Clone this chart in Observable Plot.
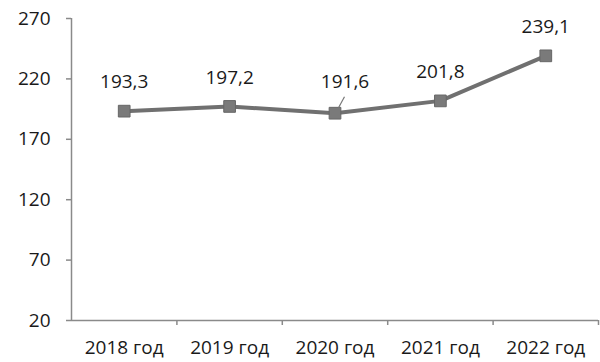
<!DOCTYPE html>
<html>
<head>
<meta charset="utf-8">
<script src="https://cdn.jsdelivr.net/npm/d3@7"></script>
<script src="https://cdn.jsdelivr.net/npm/@observablehq/plot@0.6"></script>
<style>
  html, body { margin: 0; padding: 0; background: #fff; }
  svg { display: block; }
</style>
</head>
<body>
<div id="chart"></div>
<script>
const years = ["2018 год", "2019 год", "2020 год", "2021 год", "2022 год"];
const values = [193.3, 197.2, 191.6, 201.8, 239.1];
const labels = ["193,3", "197,2", "191,6", "201,8", "239,1"];
const yTicks = [20, 70, 120, 170, 220, 270];

const data = years.map((year, i) => ({ i, pos: i + 0.5, year, value: values[i], label: labels[i] }));
const font = "'Open Sans', sans-serif";
const axisColor = "#8a8a8a";
const textColor = "#1a1a1a";

const leader = (index, scales) => {
  const d = data[2];
  const x = scales.x(d.pos), y = scales.y(d.value);
  const line = document.createElementNS("http://www.w3.org/2000/svg", "line");
  line.setAttribute("x1", x + 4); line.setAttribute("y1", y - 5);
  line.setAttribute("x2", x + 10); line.setAttribute("y2", y - 16);
  line.setAttribute("stroke", "#777"); line.setAttribute("stroke-width", 1.2);
  return line;
};

const chart = Plot.plot({
  width: 600,
  height: 362,
  marginLeft: 71,
  marginRight: 2,
  marginTop: 18,
  marginBottom: 42,
  style: { fontFamily: font, fontSize: "19px", color: textColor, background: "#fff" },
  x: { type: "linear", domain: [0, years.length] },
  y: { domain: [20, 270] },
  marks: [
    Plot.axisY({ ticks: yTicks, tickSize: 5, tickPadding: 16, stroke: axisColor, strokeWidth: 1.5, fill: textColor, fontSize: 19, label: null }),
    Plot.axisX({ ticks: d3.range(1, years.length + 1), tickSize: 5, tickFormat: () => "", stroke: axisColor, strokeWidth: 1.5, label: null }),
    Plot.axisX(data.map(d => d.pos), { tickSize: 0, tickPadding: 20, tickFormat: (d) => years[Math.floor(d)], fill: textColor, fontSize: 19, label: null }),
    Plot.ruleX([0], { stroke: axisColor, strokeWidth: 1.5 }),
    Plot.ruleY([20], { stroke: axisColor, strokeWidth: 1.5 }),
    Plot.line(data, { x: "pos", y: "value", stroke: "#707070", strokeWidth: 4 }),
    Plot.dot(data, { x: "pos", y: "value", symbol: "square", r: 6.6, fill: "#7a7a7a", stroke: "#666", strokeWidth: 1 }),
    Plot.text(data.filter(d => d.i !== 2), { x: "pos", y: "value", text: "label", dy: -29, fill: textColor, fontSize: 19 }),
    Plot.text(data.filter(d => d.i === 2), { x: "pos", y: "value", text: "label", dy: -31, dx: 10, fill: textColor, fontSize: 19 }),
    leader
  ]
});

document.getElementById("chart").appendChild(chart);
</script>
</body>
</html>
